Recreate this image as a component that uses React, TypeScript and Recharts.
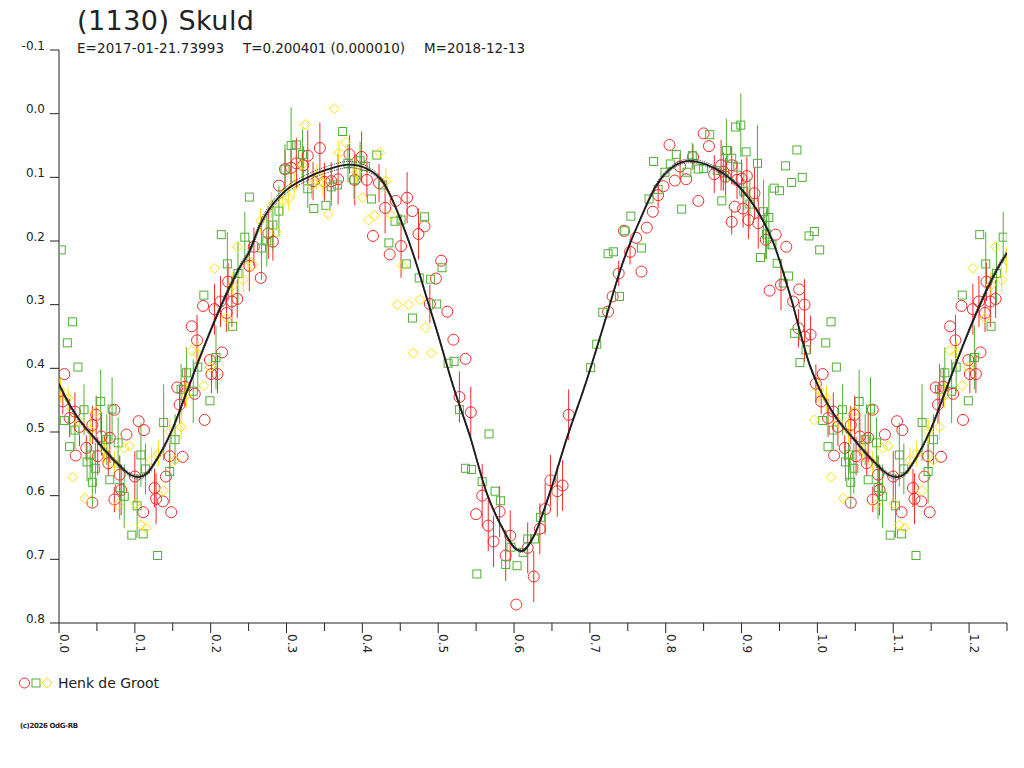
import { ErrorBar, Scatter, ScatterChart, XAxis, YAxis } from "recharts";

// [phase, magnitude, error]
type Pt = [number, number, number];

const RED_PTS: Pt[] = [
  [0.007, 0.409, 0], [0.005, 0.452, 0.02], [0.014, 0.478, 0.03], [0.021, 0.468, 0.03],
  [0.027, 0.492, 0.03], [0.022, 0.537, 0], [0.036, 0.525, 0.02], [0.044, 0.489, 0.03],
  [0.049, 0.473, 0.03], [0.044, 0.611, 0], [0.051, 0.538, 0.03], [0.056, 0.507, 0.03],
  [0.067, 0.509, 0.04], [0.073, 0.465, 0], [0.065, 0.549, 0.02], [0.08, 0.567, 0.03],
  [0.089, 0.504, 0], [0.073, 0.606, 0.02], [0.082, 0.591, 0.04], [0.105, 0.483, 0],
  [0.112, 0.497, 0], [0.1, 0.57, 0.04], [0.111, 0.626, 0], [0.126, 0.588, 0.03],
  [0.128, 0.605, 0.04], [0.137, 0.609, 0], [0.148, 0.626, 0], [0.141, 0.57, 0],
  [0.146, 0.538, 0.02], [0.163, 0.539, 0], [0.156, 0.43, 0], [0.159, 0.457, 0.03],
  [0.166, 0.429, 0.03], [0.179, 0.44, 0], [0.192, 0.481, 0], [0.175, 0.334, 0],
  [0.182, 0.356, 0.04], [0.19, 0.302, 0], [0.199, 0.387, 0], [0.201, 0.409, 0.03],
  [0.209, 0.409, 0.03], [0.215, 0.375, 0], [0.205, 0.307, 0.04], [0.213, 0.295, 0.04],
  [0.221, 0.313, 0.03], [0.228, 0.295, 0.04], [0.235, 0.291, 0.03], [0.223, 0.264, 0.03],
  [0.251, 0.239, 0.04], [0.257, 0.209, 0.03], [0.266, 0.258, 0], [0.282, 0.201, 0.03],
  [0.276, 0.188, 0.04], [0.29, 0.113, 0], [0.298, 0.087, 0.03], [0.306, 0.085, 0.03],
  [0.313, 0.078, 0.04], [0.328, 0.066, 0.04], [0.322, 0.081, 0.03], [0.344, 0.054, 0.04],
  [0.335, 0.106, 0.03], [0.35, 0.107, 0.03], [0.359, 0.106, 0.03], [0.368, 0.103, 0.04],
  [0.383, 0.064, 0.03], [0.399, 0.068, 0.04], [0.39, 0.104, 0.04], [0.406, 0.104, 0.03],
  [0.422, 0.109, 0.03], [0.459, 0.132, 0.04], [0.444, 0.137, 0], [0.43, 0.148, 0.04],
  [0.466, 0.153, 0], [0.414, 0.192, 0], [0.436, 0.221, 0], [0.451, 0.208, 0.05],
  [0.474, 0.189, 0.04], [0.482, 0.177, 0], [0.504, 0.231, 0], [0.497, 0.259, 0],
  [0.489, 0.299, 0.03], [0.512, 0.311, 0], [0.52, 0.355, 0], [0.536, 0.385, 0],
  [0.528, 0.445, 0.04], [0.543, 0.469, 0.04], [0.558, 0.6, 0.05], [0.55, 0.629, 0],
  [0.566, 0.647, 0.04], [0.573, 0.672, 0.04], [0.581, 0.625, 0.04], [0.589, 0.694, 0.04],
  [0.595, 0.663, 0.04], [0.603, 0.771, 0], [0.618, 0.682, 0.04], [0.626, 0.727, 0.04],
  [0.634, 0.652, 0.04], [0.641, 0.621, 0.04], [0.648, 0.576, 0.04], [0.657, 0.593, 0.04],
  [0.664, 0.584, 0.04], [0.672, 0.473, 0.04], [0.724, 0.311, 0], [0.73, 0.287, 0],
  [0.738, 0.251, 0.02], [0.753, 0.217, 0.02], [0.768, 0.248, 0], [0.745, 0.184, 0],
  [0.761, 0.195, 0], [0.775, 0.179, 0], [0.783, 0.154, 0], [0.79, 0.128, 0.02],
  [0.797, 0.114, 0], [0.805, 0.049, 0], [0.812, 0.105, 0], [0.819, 0.083, 0.02],
  [0.827, 0.103, 0], [0.836, 0.068, 0.02], [0.843, 0.137, 0], [0.85, 0.031, 0],
  [0.857, 0.051, 0], [0.864, 0.095, 0.03], [0.873, 0.081, 0.04], [0.876, 0.091, 0.03],
  [0.879, 0.099, 0.03], [0.887, 0.081, 0.03], [0.894, 0.104, 0.03], [0.9, 0.102, 0.03],
  [0.907, 0.098, 0.03], [0.891, 0.146, 0], [0.902, 0.149, 0.03], [0.887, 0.17, 0.02],
  [0.909, 0.167, 0.03], [0.917, 0.125, 0.04], [0.922, 0.172, 0.04], [0.932, 0.198, 0.03],
  [0.945, 0.19, 0], [0.959, 0.209, 0], [0.937, 0.278, 0], [0.952, 0.269, 0.04],
  [0.968, 0.295, 0], [0.976, 0.276, 0], [0.983, 0.3, 0.04], [0.975, 0.337, 0.03],
  [0.983, 0.35, 0.04], [0.991, 0.347, 0.03], [0.998, 0.424, 0.03],
];

const GREEN_PTS: Pt[] = [
  [0.003, 0.214, 0], [0.018, 0.327, 0], [0.011, 0.36, 0], [0.025, 0.398, 0],
  [0.007, 0.482, 0], [0.033, 0.465, 0.04], [0.021, 0.497, 0.03], [0.014, 0.523, 0],
  [0.041, 0.536, 0.04], [0.037, 0.547, 0.03], [0.048, 0.557, 0.04], [0.044, 0.579, 0.04],
  [0.055, 0.452, 0.05], [0.07, 0.464, 0.05], [0.063, 0.512, 0.04], [0.078, 0.517, 0.04],
  [0.067, 0.575, 0], [0.08, 0.587, 0.05], [0.086, 0.601, 0.05], [0.096, 0.662, 0],
  [0.103, 0.616, 0.05], [0.111, 0.66, 0], [0.108, 0.536, 0.05], [0.114, 0.558, 0.04],
  [0.13, 0.694, 0], [0.138, 0.485, 0.06], [0.146, 0.562, 0.05], [0.153, 0.512, 0.04],
  [0.161, 0.433, 0.04], [0.168, 0.407, 0.04], [0.177, 0.436, 0.05], [0.183, 0.398, 0.04],
  [0.199, 0.451, 0], [0.207, 0.383, 0.05], [0.191, 0.285, 0], [0.229, 0.334, 0],
  [0.222, 0.236, 0.05], [0.236, 0.251, 0.05], [0.214, 0.19, 0], [0.245, 0.194, 0.04],
  [0.251, 0.131, 0], [0.267, 0.211, 0.05], [0.274, 0.2, 0.04], [0.282, 0.175, 0.04],
  [0.29, 0.153, 0.04], [0.298, 0.088, 0.04], [0.306, 0.05, 0.06], [0.313, 0.049, 0],
  [0.321, 0.064, 0.04], [0.328, 0.118, 0.03], [0.336, 0.149, 0], [0.352, 0.144, 0],
  [0.359, 0.115, 0.03], [0.367, 0.112, 0], [0.374, 0.028, 0], [0.381, 0.078, 0.03],
  [0.389, 0.104, 0.03], [0.397, 0.074, 0.03], [0.404, 0.083, 0], [0.412, 0.134, 0],
  [0.419, 0.065, 0], [0.427, 0.112, 0], [0.435, 0.203, 0], [0.443, 0.169, 0],
  [0.451, 0.167, 0], [0.458, 0.236, 0], [0.466, 0.321, 0], [0.475, 0.258, 0],
  [0.482, 0.162, 0], [0.49, 0.26, 0], [0.498, 0.299, 0], [0.505, 0.242, 0],
  [0.513, 0.392, 0], [0.521, 0.389, 0], [0.528, 0.465, 0], [0.567, 0.503, 0],
  [0.536, 0.557, 0], [0.544, 0.559, 0], [0.558, 0.578, 0], [0.575, 0.593, 0],
  [0.582, 0.608, 0], [0.551, 0.723, 0], [0.589, 0.708, 0], [0.604, 0.71, 0],
  [0.596, 0.681, 0], [0.612, 0.689, 0], [0.618, 0.668, 0], [0.627, 0.668, 0],
  [0.635, 0.634, 0], [0.701, 0.399, 0], [0.709, 0.362, 0], [0.717, 0.312, 0],
  [0.739, 0.287, 0], [0.724, 0.22, 0], [0.731, 0.217, 0], [0.746, 0.184, 0],
  [0.754, 0.161, 0], [0.768, 0.211, 0], [0.778, 0.134, 0], [0.79, 0.119, 0],
  [0.799, 0.092, 0], [0.806, 0.079, 0], [0.784, 0.075, 0], [0.814, 0.064, 0],
  [0.821, 0.15, 0], [0.828, 0.092, 0], [0.835, 0.066, 0.02], [0.843, 0.087, 0],
  [0.85, 0.086, 0], [0.858, 0.033, 0], [0.868, 0.089, 0], [0.874, 0.137, 0],
  [0.88, 0.058, 0.05], [0.887, 0.07, 0], [0.892, 0.021, 0], [0.899, 0.018, 0.05],
  [0.895, 0.084, 0], [0.906, 0.06, 0], [0.903, 0.122, 0.03], [0.911, 0.142, 0.04],
  [0.921, 0.078, 0.06], [0.929, 0.154, 0.05], [0.936, 0.163, 0.05], [0.943, 0.117, 0],
  [0.95, 0.121, 0], [0.925, 0.226, 0], [0.933, 0.189, 0.04], [0.94, 0.206, 0],
  [0.947, 0.235, 0], [0.955, 0.266, 0], [0.962, 0.255, 0], [0.958, 0.082, 0],
  [0.966, 0.108, 0], [0.973, 0.057, 0], [0.98, 0.1, 0], [0.989, 0.192, 0],
  [0.996, 0.185, 0], [0.97, 0.345, 0], [0.985, 0.371, 0], [0.977, 0.391, 0],
];

const YELLOW_PTS: Pt[] = [
  [0.002, 0.434, 0.02], [0.012, 0.447, 0.02], [0.027, 0.484, 0.02], [0.041, 0.497, 0.02],
  [0.049, 0.468, 0], [0.018, 0.571, 0], [0.034, 0.604, 0], [0.06, 0.528, 0.02],
  [0.073, 0.549, 0.02], [0.078, 0.614, 0], [0.086, 0.525, 0], [0.093, 0.522, 0],
  [0.101, 0.612, 0], [0.108, 0.646, 0], [0.115, 0.651, 0], [0.122, 0.544, 0.02],
  [0.131, 0.534, 0.02], [0.138, 0.592, 0], [0.146, 0.499, 0.02], [0.153, 0.544, 0],
  [0.161, 0.492, 0.02], [0.168, 0.442, 0.02], [0.175, 0.372, 0], [0.183, 0.377, 0.02],
  [0.191, 0.427, 0], [0.199, 0.398, 0], [0.205, 0.243, 0], [0.221, 0.321, 0],
  [0.229, 0.269, 0.02], [0.243, 0.261, 0.02], [0.235, 0.209, 0], [0.249, 0.23, 0.02],
  [0.256, 0.238, 0], [0.266, 0.168, 0.02], [0.28, 0.144, 0.02], [0.287, 0.186, 0],
  [0.295, 0.137, 0.02], [0.303, 0.133, 0.02], [0.31, 0.113, 0.02], [0.32, 0.081, 0.02],
  [0.325, 0.017, 0], [0.333, 0.113, 0.02], [0.34, 0.099, 0.02], [0.348, 0.109, 0.02],
  [0.355, 0.158, 0], [0.363, -0.008, 0], [0.369, 0.062, 0.02], [0.378, 0.045, 0],
  [0.392, 0.092, 0.02], [0.4, 0.132, 0], [0.408, 0.167, 0], [0.416, 0.16, 0],
  [0.423, 0.061, 0], [0.431, 0.106, 0.02], [0.438, 0.16, 0], [0.446, 0.3, 0],
  [0.453, 0.239, 0], [0.461, 0.3, 0], [0.467, 0.376, 0], [0.476, 0.292, 0],
  [0.483, 0.336, 0], [0.491, 0.376, 0], [0.996, 0.481, 0],
];

// [phase, fit, fit upper band, fit lower band]
const FIT_PTS: [number, number, number, number][] = [
  [0.0, 0.425, 0.423, 0.428], [0.013, 0.455, 0.453, 0.458], [0.027, 0.481, 0.479, 0.484],
  [0.045, 0.507, 0.505, 0.51], [0.06, 0.528, 0.525, 0.531], [0.08, 0.553, 0.55, 0.556],
  [0.095, 0.568, 0.565, 0.571], [0.105, 0.571, 0.568, 0.574], [0.115, 0.566, 0.563, 0.569],
  [0.13, 0.541, 0.538, 0.544], [0.148, 0.5, 0.497, 0.503], [0.17, 0.432, 0.429, 0.435],
  [0.196, 0.352, 0.349, 0.355], [0.222, 0.28, 0.276, 0.284], [0.24, 0.238, 0.234, 0.242],
  [0.25, 0.219, 0.215, 0.223],
  [0.265, 0.175, 0.17, 0.18], [0.295, 0.125, 0.12, 0.13], [0.326, 0.101, 0.096, 0.106],
  [0.353, 0.088, 0.083, 0.093], [0.383, 0.08, 0.075, 0.085], [0.405, 0.086, 0.082, 0.09],
  [0.428, 0.109, 0.106, 0.112], [0.449, 0.162, 0.16, 0.164], [0.471, 0.235, 0.233, 0.237],
  [0.485, 0.29, 0.288, 0.292], [0.498, 0.34, 0.338, 0.342], [0.52, 0.429, 0.427, 0.431],
  [0.542, 0.507, 0.505, 0.509], [0.564, 0.596, 0.594, 0.598], [0.586, 0.654, 0.652, 0.656],
  [0.6, 0.681, 0.679, 0.683], [0.61, 0.687, 0.685, 0.689], [0.625, 0.666, 0.664, 0.668],
  [0.647, 0.596, 0.594, 0.598], [0.669, 0.512, 0.51, 0.514], [0.696, 0.418, 0.416, 0.42],
  [0.715, 0.345, 0.343, 0.347], [0.744, 0.232, 0.23, 0.234], [0.766, 0.167, 0.165, 0.169],
  [0.788, 0.112, 0.109, 0.115], [0.81, 0.083, 0.08, 0.086], [0.832, 0.074, 0.071, 0.077],
  [0.854, 0.08, 0.077, 0.083], [0.876, 0.094, 0.091, 0.097], [0.898, 0.116, 0.114, 0.118],
  [0.92, 0.151, 0.149, 0.153], [0.942, 0.203, 0.201, 0.205], [0.964, 0.285, 0.283, 0.287],
  [0.99, 0.395, 0.393, 0.398],
];

const X_TICKS = [
  0, 0.05, 0.1, 0.15, 0.2, 0.25, 0.3, 0.35, 0.4, 0.45, 0.5, 0.55, 0.6, 0.65,
  0.7, 0.75, 0.8, 0.85, 0.9, 0.95, 1.0, 1.05, 1.1, 1.15, 1.2, 1.25,
];
const Y_TICKS = [-0.1, 0, 0.1, 0.2, 0.3, 0.4, 0.5, 0.6, 0.7, 0.8];

const COLORS = {
  red: "#f22a2a",
  green: "#4fb133",
  yellow: "#ffe200",
  fit: "#1c1c1c",
  ink: "#222222",
};

const FONT = "DejaVu Sans";
const PLOT_LEFT = 59;
const AXIS_Y = 623;

// phases up to 0.25 are shown a second time after 1.0
function toRows(pts: Pt[]) {
  const rows = pts.map(([x, y, err]) => ({ x, y, err }));
  const again = pts
    .filter(([x]) => x <= 0.25)
    .map(([x, y, err]) => ({ x: x + 1, y, err }));
  return [...rows, ...again];
}

function fitRows(col: 1 | 2 | 3) {
  const rows = FIT_PTS.map((p) => ({ x: p[0], y: p[col] }));
  const again = FIT_PTS.filter((p) => p[0] <= 0.25).map((p) => ({ x: p[0] + 1, y: p[col] }));
  return [...rows, ...again];
}

const CircleDot = (p: any) => (
  <circle cx={p.cx} cy={p.cy} r={5.5} fill="none" stroke={COLORS.red} strokeWidth={1} />
);
const SquareDot = (p: any) => (
  <rect x={p.cx - 4} y={p.cy - 4} width={8} height={8} fill="none" stroke={COLORS.green} strokeWidth={1} />
);
const DiamondDot = (p: any) => (
  <path
    d={`M${p.cx},${p.cy - 5}L${p.cx + 5},${p.cy}L${p.cx},${p.cy + 5}L${p.cx - 5},${p.cy}Z`}
    fill="none"
    stroke={COLORS.yellow}
    strokeWidth={1}
  />
);
const NoDot = () => <g />;

function XTick({ x, payload }: any) {
  const v: number = payload.value;
  const major = Math.round(v * 100) % 10 === 0;
  return (
    <g>
      <line x1={x} x2={x} y1={AXIS_Y} y2={AXIS_Y + (major ? 10 : 8)} stroke={COLORS.ink} />
      {major && (
        <text
          transform={`translate(${x + 1},${AXIS_Y + 11}) rotate(90)`}
          fontFamily={FONT}
          fontSize={12}
          fill={COLORS.ink}
          textAnchor="start"
        >
          {v.toFixed(1)}
        </text>
      )}
    </g>
  );
}

function YTick({ y, payload }: any) {
  const v: number = payload.value;
  return (
    <g>
      <line x1={50} x2={PLOT_LEFT} y1={y} y2={y} stroke={COLORS.ink} />
      <text x={45} y={y - 0.5} fontFamily={FONT} fontSize={12} fill={COLORS.ink} textAnchor="end">
        {v.toFixed(1)}
      </text>
    </g>
  );
}

export default function App() {
  return (
    <div style={{ position: "relative", width: 1024, height: 768, background: "#fff" }}>
      <style>{"body{margin:0}"}</style>
      <ScatterChart width={1024} height={768} margin={{ top: 50, right: 17, bottom: 0, left: 0 }}>
        <XAxis
          type="number"
          dataKey="x"
          domain={[0, 1.25]}
          ticks={X_TICKS}
          interval={0}
          height={145}
          tickLine={false}
          axisLine={{ stroke: COLORS.ink }}
          tick={<XTick />}
          allowDataOverflow
        />
        <YAxis
          type="number"
          dataKey="y"
          domain={[-0.1, 0.8]}
          reversed
          ticks={Y_TICKS}
          interval={0}
          width={PLOT_LEFT}
          tickLine={false}
          axisLine={{ stroke: COLORS.ink }}
          tick={<YTick />}
          allowDataOverflow
        />
        <Scatter data={toRows(RED_PTS)} shape={CircleDot} isAnimationActive={false}>
          <ErrorBar dataKey="err" direction="y" width={0} stroke={COLORS.red} strokeWidth={1} />
        </Scatter>
        <Scatter data={toRows(GREEN_PTS)} shape={SquareDot} isAnimationActive={false}>
          <ErrorBar dataKey="err" direction="y" width={0} stroke={COLORS.green} strokeWidth={1} />
        </Scatter>
        <Scatter data={toRows(YELLOW_PTS)} shape={DiamondDot} isAnimationActive={false}>
          <ErrorBar dataKey="err" direction="y" width={0} stroke={COLORS.yellow} strokeWidth={1} />
        </Scatter>
        <Scatter
          data={fitRows(2)}
          shape={NoDot}
          lineJointType="monotoneX"
          line={{ stroke: "#3a3a3a", strokeWidth: 1, strokeDasharray: "1 1" }}
          isAnimationActive={false}
        />
        <Scatter
          data={fitRows(3)}
          shape={NoDot}
          lineJointType="monotoneX"
          line={{ stroke: "#3a3a3a", strokeWidth: 1, strokeDasharray: "1 1" }}
          isAnimationActive={false}
        />
        <Scatter
          data={fitRows(1)}
          shape={NoDot}
          lineJointType="monotoneX"
          line={{ stroke: COLORS.fit, strokeWidth: 1.8 }}
          isAnimationActive={false}
        />
      </ScatterChart>

      <svg
        width={1024}
        height={768}
        style={{ position: "absolute", left: 0, top: 0, pointerEvents: "none" }}
        fontFamily={FONT}
        fill={COLORS.ink}
      >
        <text x={77} y={30} fontSize={27} textLength={177}>
          (1130) Skuld
        </text>
        <text x={77} y={53} fontSize={13.5} textLength={147}>
          E=2017-01-21.73993
        </text>
        <text x={243} y={53} fontSize={13.5} textLength={162}>
          T=0.200401 (0.000010)
        </text>
        <text x={424} y={53} fontSize={13.5} textLength={101}>
          M=2018-12-13
        </text>

        <circle cx={24.5} cy={683} r={5} fill="none" stroke={COLORS.red} />
        <rect x={32} y={679} width={8} height={8} fill="none" stroke={COLORS.green} />
        <path d="M47,678L52,683L47,688L42,683Z" fill="none" stroke={COLORS.yellow} />
        <text x={58} y={688} fontSize={14} textLength={101}>
          Henk de Groot
        </text>

        <text x={20} y={728} fontSize={7} fontWeight="bold" textLength={58}>
          (c)2026 OdG-RB
        </text>
      </svg>
    </div>
  );
}
